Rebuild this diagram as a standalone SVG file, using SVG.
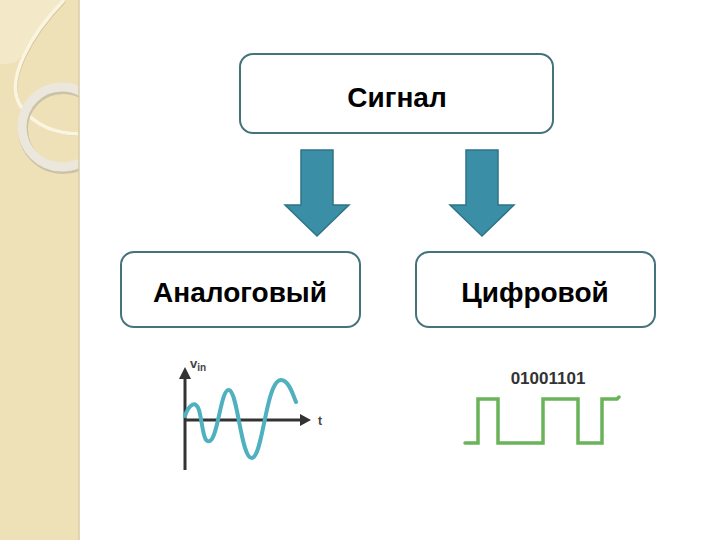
<svg xmlns="http://www.w3.org/2000/svg" width="720" height="540" viewBox="0 0 720 540">
<style>
.box{fill:#ffffff;stroke:#44737c;stroke-width:2}
.lbl{font-family:"Liberation Sans","DejaVu Sans",sans-serif;font-weight:bold;font-size:28px;fill:#000;text-anchor:middle}
.arr{fill:#3a8fa7;stroke:#2f7387;stroke-width:1.5}
</style>
<defs>
<clipPath id="band"><rect x="0" y="0" width="79" height="540"/></clipPath>
</defs>
<rect width="720" height="540" fill="#ffffff"/>
<g id="background">
<rect x="0" y="0" width="79" height="540" fill="#eee1b8"/>
<g clip-path="url(#band)">
<path d="M0 0 H64 C48 22 30 48 16 62 C10 64 4 64 0 64 Z" fill="#f3e9c9"/>
<path d="M64 0 C30 35 5 80 20 105 C35 128 60 134 80 134" fill="none" stroke="#d3c595" stroke-width="1.2" transform="translate(1.5,1.5)"/>
<path d="M64 0 C30 35 5 80 20 105 C35 128 60 134 80 134" fill="none" stroke="#faf4e0" stroke-width="3.5"/>
<circle cx="62" cy="127" r="40" fill="none" stroke="#cbc2a8" stroke-width="10" transform="translate(1,2)"/>
<circle cx="62" cy="127" r="40" fill="none" stroke="#ebe7dc" stroke-width="9"/>
</g>
<line x1="79" y1="0" x2="79" y2="540" stroke="#d9cda6" stroke-width="1.5"/>
</g>
<g id="connectors">
<path class="arr" d="M301 150 H333 V205 H349 L317 236 L285 205 H301 Z"/>
<path class="arr" d="M466 150 H498 V205 H514 L482 236 L450 205 H466 Z"/>
</g>
<g id="node-signal">
<rect class="box" x="240" y="54" width="313" height="79" rx="13"/>
<text class="lbl" x="397" y="107">Сигнал</text>
</g>
<g id="node-analog">
<rect class="box" x="121" y="252" width="239" height="75" rx="13"/>
<text class="lbl" x="240" y="302">Аналоговый</text>
</g>
<g id="node-digital">
<rect class="box" x="416" y="252" width="239" height="75" rx="13"/>
<text class="lbl" x="535" y="302">Цифровой</text>
</g>
<g id="analog-graph">
<line x1="185" y1="376" x2="185" y2="470" stroke="#333" stroke-width="3"/>
<path d="M185 367 L191 379 H179 Z" fill="#333"/>
<line x1="185" y1="420" x2="302" y2="420" stroke="#333" stroke-width="3"/>
<path d="M311 420 L300 414 V426 Z" fill="#333"/>
<text x="318" y="425" font-family="Liberation Sans,sans-serif" font-size="12" font-weight="bold" fill="#444">t</text>
<text x="190" y="368" font-family="Liberation Sans,sans-serif" font-weight="bold" fill="#444" font-size="13">v<tspan font-size="10" dy="3">in</tspan></text>
<path d="M185 416 C189 404 196 400 199 410 C203 425 203 444 210 441 C218 437 221 388 229 390 C238 392 241 459 252 458 C263 457 266 380 281 380 C289 380 293 395 296 402" fill="none" stroke="#4fb0bf" stroke-width="4" stroke-linecap="round"/>
</g>
<g id="digital-graph">
<text x="548" y="384" font-family="Liberation Sans,sans-serif" font-weight="bold" font-size="17" fill="#333" text-anchor="middle">01001101</text>
<path d="M465 443 H478 V399 H498 V443 H543 V399 H578 V443 H602 V399 H617 L619 397" fill="none" stroke="#6bb35a" stroke-width="3.5" stroke-linecap="round" stroke-linejoin="miter"/>
</g>
</svg>
